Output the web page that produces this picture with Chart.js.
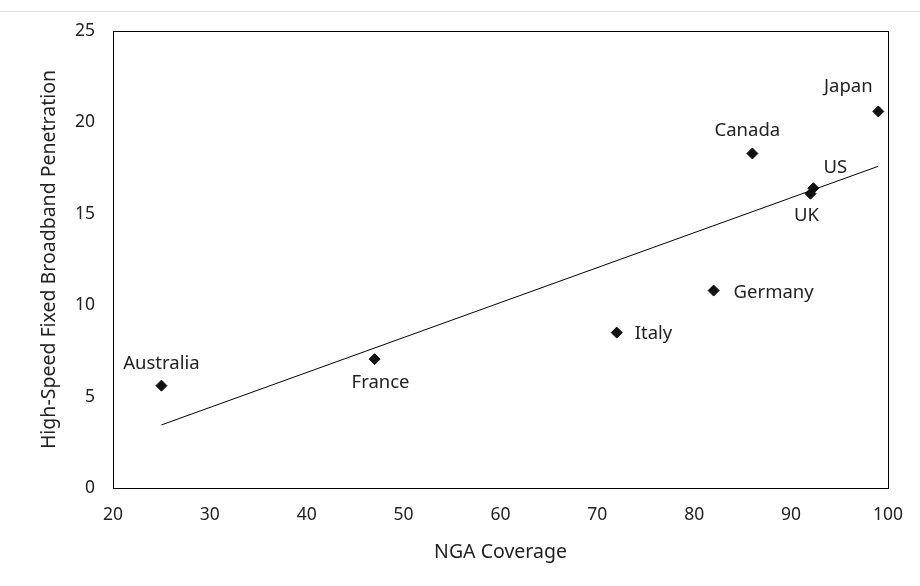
<!DOCTYPE html>
<html>
<head>
<meta charset="utf-8">
<script src="https://cdn.jsdelivr.net/npm/chart.js@4.4.1/dist/chart.umd.min.js"></script>
<style>
html,body{margin:0;padding:0;background:#fff;}
#wrap{position:relative;width:920px;height:586px;overflow:hidden;}
#topline{position:absolute;left:0;top:11px;width:920px;height:1px;background:#e3e3e3;}
canvas{position:absolute;left:0;top:0;}
</style>
</head>
<body>
<div id="wrap">
<div id="topline"></div>
<canvas id="c" width="920" height="586"></canvas>
</div>
<script>
// Data
const countries = ["Australia","France","Italy","Germany","Canada","UK","US","Japan"];
const ngaCoverage = [25, 47, 72, 82, 86, 92, 92.3, 99];
const penetration = [5.6, 7.05, 8.5, 10.8, 18.3, 16.1, 16.4, 20.6];
const trendX = [25, 99];
const trendY = [3.45, 17.6];
const xTicks = [20, 30, 40, 50, 60, 70, 80, 90, 100];
const yTicks = [0, 5, 10, 15, 20, 25];
// label placement: [dx, dy, align]
const labelPos = {
  "Australia": [0, -22, "center"],
  "France": [6, 24, "center"],
  "Italy": [18, 1, "left"],
  "Germany": [20, 2, "left"],
  "Canada": [-5, -23, "center"],
  "UK": [-4, 22, "center"],
  "US": [10, -20, "left"],
  "Japan": [-30, -25, "center"]
};

const FONT = "'Noto Sans', 'Open Sans', sans-serif";

const labelPlugin = {
  id: 'pointLabels',
  afterDatasetsDraw(chart) {
    const ctx = chart.ctx;
    const meta = chart.getDatasetMeta(1);
    ctx.save();
    ctx.font = "18.5px " + FONT;
    ctx.fillStyle = "#222";
    ctx.textBaseline = "middle";
    meta.data.forEach((pt, i) => {
      const name = countries[i];
      const p = labelPos[name];
      ctx.textAlign = p[2];
      ctx.fillText(name, pt.x + p[0], pt.y + p[1]);
    });
    ctx.restore();
  }
};

const borderPlugin = {
  id: 'plotBorder',
  afterDraw(chart) {
    const a = chart.chartArea;
    const ctx = chart.ctx;
    ctx.save();
    ctx.strokeStyle = "#000";
    ctx.lineWidth = 1;
    ctx.strokeRect(Math.round(a.left) + 0.5, Math.round(a.top) + 0.5, Math.round(a.right - a.left), Math.round(a.bottom - a.top));
    ctx.restore();
  }
};

new Chart(document.getElementById('c'), {
  type: 'scatter',
  data: {
    datasets: [
      {
        type: 'line',
        data: trendX.map((x, i) => ({x: x, y: trendY[i]})),
        borderColor: '#000',
        borderWidth: 1,
        pointRadius: 0,
        fill: false
      },
      {
        data: ngaCoverage.map((x, i) => ({x: x, y: penetration[i]})),
        pointStyle: 'rectRot',
        pointRadius: 5.5,
        backgroundColor: '#111',
        borderColor: '#111',
        borderWidth: 1
      }
    ]
  },
  options: {
    responsive: false,
    animation: false,
    layout: {padding: {top: 31, right: 32, left: 0, bottom: 0}},
    plugins: {legend: {display: false}, tooltip: {enabled: false}},
    scales: {
      x: {
        type: 'linear',
        min: 20, max: 100,
        afterBuildTicks(scale) { scale.ticks = xTicks.map(v => ({value: v})); },
        afterFit(scale) { scale.height = 98; },
        grid: {display: false, drawTicks: false},
        border: {display: false},
        ticks: {font: {size: 17.5, family: FONT}, color: '#222', padding: 17},
        title: {display: true, text: 'NGA Coverage', font: {size: 19.5, family: FONT}, color: '#222', padding: {top: 4, bottom: 22}}
      },
      y: {
        type: 'linear',
        min: 0, max: 25,
        afterBuildTicks(scale) { scale.ticks = yTicks.map(v => ({value: v})); },
        afterFit(scale) { scale.width = 113; },
        grid: {display: false, drawTicks: false},
        border: {display: false},
        ticks: {font: {size: 17.5, family: FONT}, color: '#222', padding: 18},
        title: {display: true, text: 'High-Speed Fixed Broadband Penetration', font: {size: 19.5, family: FONT}, color: '#222', padding: {top: 38, bottom: 4}}
      }
    }
  },
  plugins: [labelPlugin, borderPlugin]
});
</script>
</body>
</html>
